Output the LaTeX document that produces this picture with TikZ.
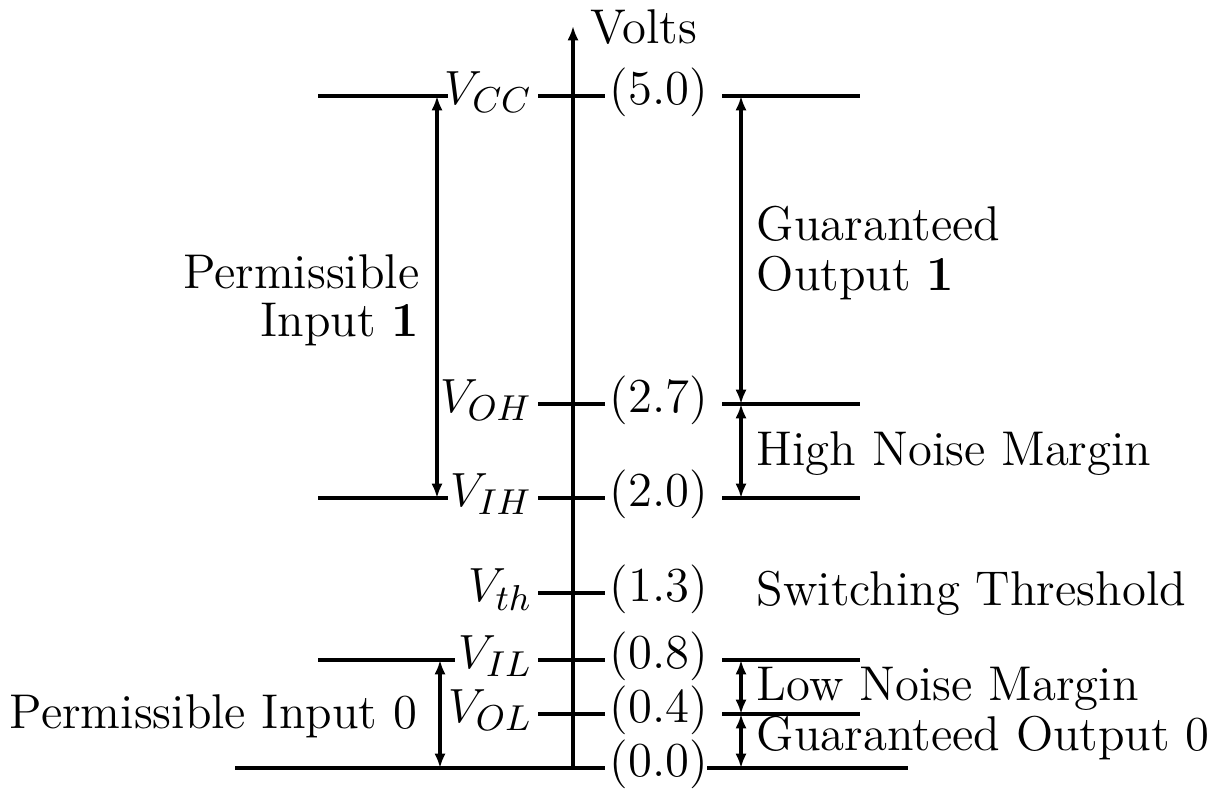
\documentclass[tikz,border=0pt]{standalone}
\usetikzlibrary{arrows.meta}
\begin{document}
\begin{tikzpicture}[x=0.25pt,y=-0.25pt,
  every node/.style={inner sep=0pt,font=\fontsize{12.2}{12.5}\selectfont},
  ln/.style={line width=0.85pt},
  dim/.style={line width=0.85pt,{Latex[length=3.6pt,width=2.8pt]}-{Latex[length=3.6pt,width=2.8pt]}},
  vlab/.style={anchor=mid east},
  val/.style={anchor=mid west},
  note/.style={anchor=base west},
  lnote/.style={anchor=base east}]
\useasboundingbox (0,0) rectangle (1216,792);

% axis
\coordinate (axB) at (573,768);
\coordinate (axT) at (573,26);
\draw[ln,-{Latex[length=3.6pt,width=2.8pt]}] (axB) -- (axT);
\node[note] (volts) at (590,43) {Volts};

% level labels
\node[vlab] (Vcc) at (533,96)  {$V_{CC}$};
\node[vlab] (Voh) at (533,404) {$V_{OH}$};
\node[vlab] (Vih) at (533,498) {$V_{IH}$};
\node[vlab] (Vth) at (533,593) {$V_{th}$};
\node[vlab] (Vil) at (533,660) {$V_{IL}$};
\node[vlab] (Vol) at (533,714) {$V_{OL}$};

\node[val] (n50) at (609,96)  {(5.0)};
\node[val] (n27) at (609,404) {(2.7)};
\node[val] (n20) at (609,498) {(2.0)};
\node[val] (n13) at (609,593) {(1.3)};
\node[val] (n08) at (609,660) {(0.8)};
\node[val] (n04) at (609,714) {(0.4)};
\node[val] (n00) at (609,768) {(0.0)};

% ticks
\foreach \y in {96,404,498,593,660,714} \draw[ln] (538,\y) -- (605,\y);

% left long lines
\draw[ln] (318,96)  -- (448,96);
\draw[ln] (318,498) -- (448,498);
\draw[ln] (318,660) -- (455,660);
\draw[ln] (235,768) -- (605,768);

% right long lines
\foreach \y in {96,404,498,660,714} \draw[ln] (722,\y) -- (860,\y);
\draw[ln] (707,768) -- (908,768);

% left dimension arrows
\coordinate (lA) at (437,96);
\coordinate (lB) at (437,498);
\coordinate (lC) at (440,660);
\coordinate (lD) at (440,768);
\draw[dim] (lA) -- (lB);
\draw[dim] (lC) -- (lD);

% right dimension arrows
\coordinate (rA) at (741,96);
\coordinate (rB) at (741,404);
\coordinate (rC) at (741,498);
\coordinate (rD) at (741,660);
\coordinate (rE) at (741,714);
\coordinate (rF) at (741,768);
\draw[dim] (rA) -- (rB);
\draw[dim] (rB) -- (rC);
\draw[dim] (rD) -- (rE);
\draw[dim] (rE) -- (rF);

% texts
\node[lnote] (pi1a) at (420,288) {Permissible};
\node[lnote] (pi1b) at (420,336) {Input \textbf{1}};
\node[lnote] (pi0) at (418,728) {Permissible Input 0};
\node[note] (go1a) at (756,240) {Guaranteed};
\node[note] (go1b) at (756,290) {Output \textbf{1}};
\node[note] (hnm) at (756,465) {High Noise Margin};
\node[note] (swt) at (756,605) {Switching Threshold};
\node[note] (lnm) at (756,700) {Low Noise Margin};
\node[note] (go0) at (756,750) {Guaranteed Output 0};
\end{tikzpicture}
\end{document}
